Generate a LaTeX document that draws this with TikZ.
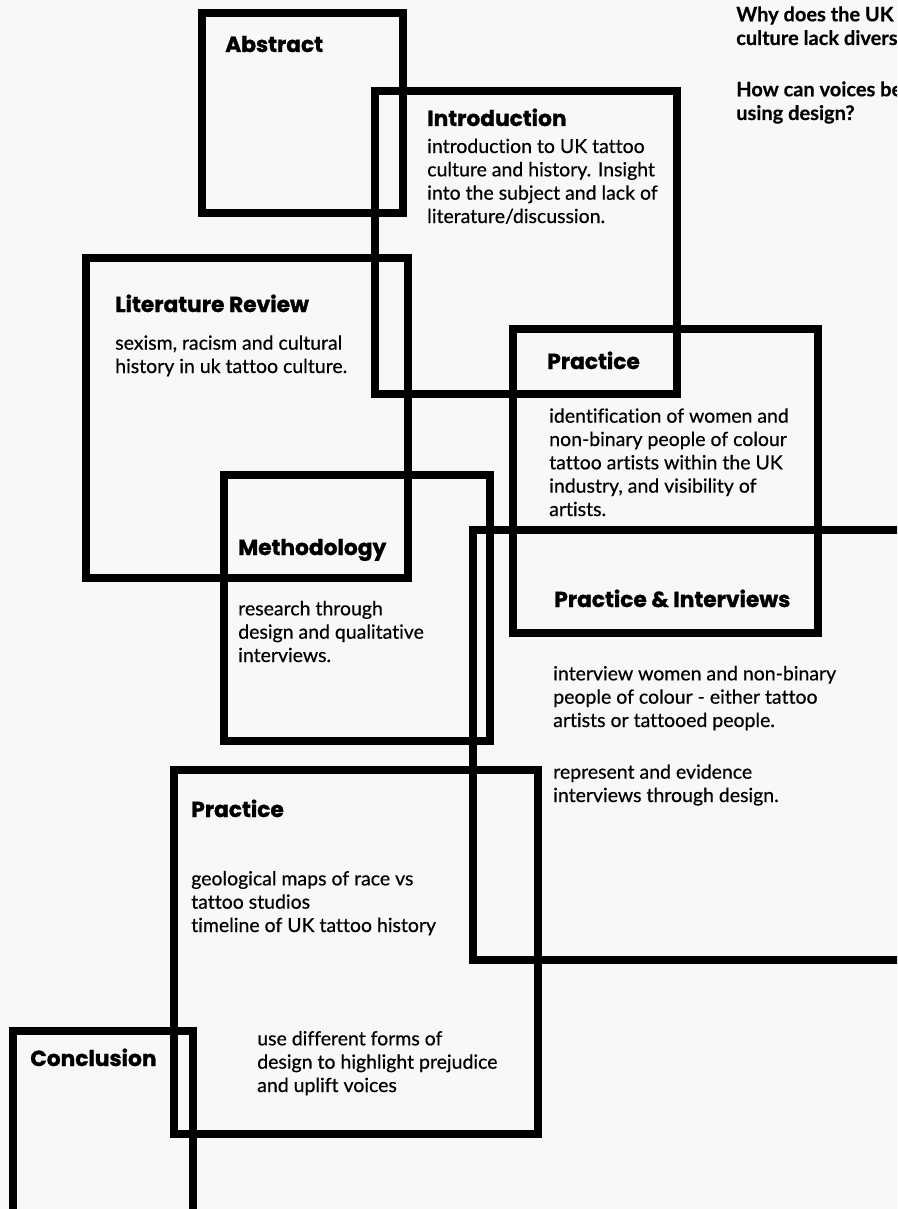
\documentclass[tikz,border=0pt]{standalone}
\usepackage{fontspec}
\setmainfont{Lato}[FakeBold=0.5, Ligatures=NoCommon]
\newfontfamily\headfont{Poppins}[BoldFeatures={FakeBold=1.2}]
\usetikzlibrary{positioning}
\definecolor{paper}{HTML}{F8F8F8}

\begin{document}
\begin{tikzpicture}[
    x=0.75pt, y=-0.75pt,
    frame/.style={draw=black, line width=6pt},
    heading/.style={anchor=base west, inner sep=0pt,
      font=\headfont\bfseries\fontsize{16.3}{18}\selectfont},
    body/.style={anchor=base west, inner sep=0pt, align=left,
      font=\fontsize{14.6}{17.5}\selectfont},
    question/.style={body, font=\bfseries\fontsize{15}{17.8}\selectfont},
  ]

  % Page
  \fill[paper] (0,0) rectangle (897,1209);
  \useasboundingbox (0,0) rectangle (897,1209);
  \clip (0,0) rectangle (897,1209);

  % Frames
  \draw[frame] (202,13)   rectangle (403,213);   % abstract
  \draw[frame] (375,91)   rectangle (677,394);   % introduction
  \draw[frame] (86,258)   rectangle (408,578);   % literature review
  \draw[frame] (513,329)  rectangle (818,633);   % practice
  \draw[frame] (224,475)  rectangle (490,741);   % methodology
  \draw[frame] (473,530)  rectangle (930,960);   % practice & interviews
  \draw[frame] (174,770)  rectangle (538,1134);  % practice (lower)
  \draw[frame] (13,1031)  rectangle (193,1240);  % conclusion

  % Research questions (anchor = last baseline)
  \node[question] (q1) at (736,45)  {Why does the UK\\culture lack diversity?};
  \node[question] (q2) at (736,120) {How can voices be\\using design?};

  % Headings
  \node[heading] (abstract)   at (225,52)   {Abstract};
  \node[heading] (intro)      at (427,126)  {Introduction};
  \node[heading] (litreview)  at (115,312)  {Literature Review};
  \node[heading] (practice)   at (547,369)  {Practice};
  \node[heading] (method)     at (238,555)  {Methodology};
  \node[heading] (interviews) at (554,607)  {Practice \& Interviews};
  \node[heading] (practicelo) at (191,817)  {Practice};
  \node[heading] (conclusion) at (30,1066)  {Conclusion};

  % Descriptions (anchor = last baseline)
  \node[body] (intro-txt) at (427,223)
    {introduction to UK tattoo\\culture and history. Insight\\into the subject and lack of\\literature/discussion.};
  \node[body] (litreview-txt) at (115,373)
    {sexism, racism and cultural\\history in uk tattoo culture.};
  \node[body] (practice-txt) at (549,516)
    {identification of women and\\non-binary people of colour\\tattoo artists within the UK\\industry, and visibility of\\artists.};
  \node[body] (method-txt) at (238,662)
    {research through\\design and qualitative\\interviews.};
  \node[body] (interviews-txt) at (553,727)
    {interview women and non-binary\\people of colour - either tattoo\\artists or tattooed people.};
  \node[body] (design-txt) at (553,802)
    {represent and evidence\\interviews through design.};
  \node[body] (maps-txt) at (191,932)
    {geological maps of race vs\\tattoo studios\\timeline of UK tattoo history};
  \node[body] (forms-txt) at (257,1092)
    {use different forms of\\design to highlight prejudice\\and uplift voices};

\end{tikzpicture}
\end{document}
